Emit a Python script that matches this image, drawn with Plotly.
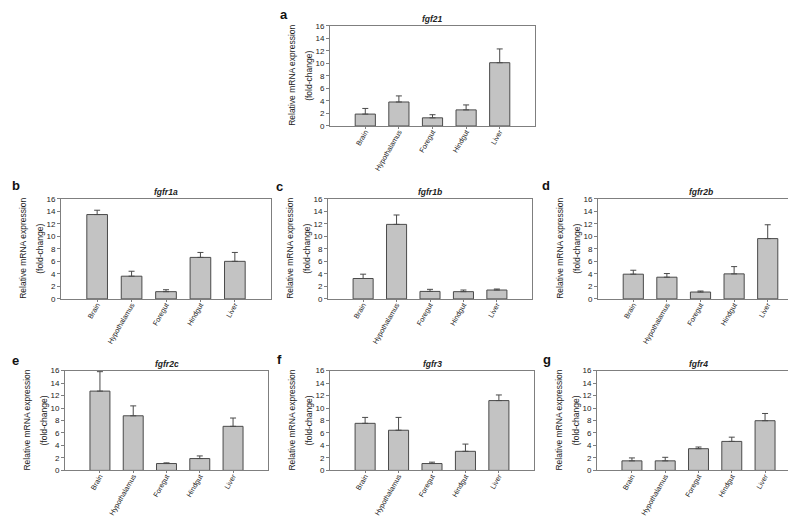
import plotly.graph_objects as go

W, H = 796, 518

tissues = ["Brain", "Hypothalamus", "Foregut", "Hindgut", "Liver"]
genes = ["fgf21", "fgfr1a", "fgfr1b", "fgfr2b", "fgfr2c", "fgfr3", "fgfr4"]
letters = ["a", "b", "c", "d", "e", "f", "g"]

fgf21_mean = [1.9, 3.83, 1.3, 2.57, 10.1]
fgf21_top = [2.8, 4.8, 1.8, 3.36, 12.3]
fgfr1a_mean = [13.47, 3.63, 1.16, 6.63, 6.0]
fgfr1a_top = [14.16, 4.42, 1.47, 7.42, 7.42]
fgfr1b_mean = [3.26, 11.9, 1.2, 1.16, 1.42]
fgfr1b_top = [3.95, 13.4, 1.53, 1.42, 1.58]
fgfr2b_mean = [3.95, 3.47, 1.1, 4.0, 9.63]
fgfr2b_top = [4.58, 4.05, 1.26, 5.16, 11.84]
fgfr2c_mean = [12.72, 8.76, 1.1, 1.9, 7.07]
fgfr2c_top = [15.84, 10.35, 1.21, 2.32, 8.4]
fgfr3_mean = [7.55, 6.44, 1.1, 3.06, 11.2]
fgfr3_top = [8.5, 8.5, 1.32, 4.22, 12.1]
fgfr4_mean = [1.53, 1.53, 3.48, 4.65, 7.97]
fgfr4_top = [2.0, 2.1, 3.75, 5.33, 9.13]

means = [fgf21_mean, fgfr1a_mean, fgfr1b_mean, fgfr2b_mean, fgfr2c_mean, fgfr3_mean, fgfr4_mean]
tops = [fgf21_top, fgfr1a_top, fgfr1b_top, fgfr2b_top, fgfr2c_top, fgfr3_top, fgfr4_top]

y_ticks = [0, 2, 4, 6, 8, 10, 12, 14, 16]
y_title_1 = "Relative mRNA expression"
y_title_2 = "(fold-change)"

# panel plot areas in pixels: (x0, x1, y_top, y_bottom)
boxes = [
    (322, 527, 14, 116),
    (53, 263, 190, 292),
    (320, 524, 190, 292),
    (590, 795, 190, 292),
    (57, 260, 365, 466.5),
    (322, 526, 365, 466.5),
    (589, 792, 365, 466.5),
]
# panel letter positions (left x, centre y) in pixels
letter_pos = [(270, 3), (2, 177), (266, 178), (532, 177), (2, 355), (267, 354), (533, 354)]

FONT = "Liberation Sans, Arial, sans-serif"
TXT = "#222222"
fig = go.Figure()
layout = dict(
    width=W, height=H, margin=dict(l=0, r=0, t=0, b=0),
    paper_bgcolor="white", plot_bgcolor="white", showlegend=False,
    font=dict(family=FONT, color=TXT),
)
annotations = []

for i, (g, m, t, box) in enumerate(zip(genes, means, tops, boxes)):
    k = "" if i == 0 else str(i + 1)
    x0, x1, yt, yb = box
    errs = [round(tt - mm, 3) for tt, mm in zip(t, m)]
    fig.add_trace(go.Bar(
        x=list(range(len(tissues))), y=m, width=0.6,
        marker=dict(color="#c3c3c3", line=dict(color="#4a4a4a", width=1)),
        error_y=dict(type="data", symmetric=False, array=errs, arrayminus=[0] * len(m),
                     color="#4a4a4a", thickness=1, width=3),
        xaxis="x" + k, yaxis="y" + k,
    ))
    layout["xaxis" + k] = dict(
        domain=[x0 / W, x1 / W], anchor="y" + k, range=[-1.05, 4 + 1.05],
        tickmode="array", tickvals=list(range(len(tissues))), ticktext=tissues,
        tickangle=-60, tickfont=dict(size=7.2, family=FONT, color=TXT),
        ticklabelstandoff=-4,
        showline=True, linecolor="#7f7f7f", linewidth=1, mirror=True,
        ticks="outside", ticklen=2, tickcolor="#7f7f7f", showgrid=False, zeroline=False,
        fixedrange=True,
    )
    layout["yaxis" + k] = dict(
        domain=[1 - yb / H, 1 - yt / H], anchor="x" + k, range=[0, 16],
        tickmode="array", tickvals=y_ticks,
        tickfont=dict(size=8, family=FONT, color=TXT),
        showline=True, linecolor="#7f7f7f", linewidth=1, mirror=True,
        ticks="outside", ticklen=3, tickcolor="#7f7f7f", showgrid=False, zeroline=False,
        fixedrange=True,
    )
    yc = 1 - (yt + yb) / 2 / H
    for txt, off in ((y_title_1, 38), (y_title_2, 21)):
        annotations.append(dict(
            text=txt, x=(x0 - off) / W, y=yc, xref="paper", yref="paper",
            xanchor="center", yanchor="middle", textangle=-90, showarrow=False,
            font=dict(size=8.5, family=FONT, color=TXT),
        ))
    annotations.append(dict(
        text="<b><i>%s</i></b>" % g, x=(x0 + x1) / 2 / W, y=1 - (yt - 7) / H,
        xref="paper", yref="paper", xanchor="center", yanchor="middle",
        showarrow=False, font=dict(size=8.5, family=FONT, color=TXT),
    ))

for L, (lx, ly) in zip(letters, letter_pos):
    annotations.append(dict(
        text="<b>%s</b>" % L, x=lx / W, y=1 - ly / H, xref="paper", yref="paper",
        xanchor="left", yanchor="middle", showarrow=False,
        font=dict(size=13, family=FONT, color="#111111"),
    ))

layout["annotations"] = annotations
fig.update_layout(**layout)
fig.write_html("out.html")
